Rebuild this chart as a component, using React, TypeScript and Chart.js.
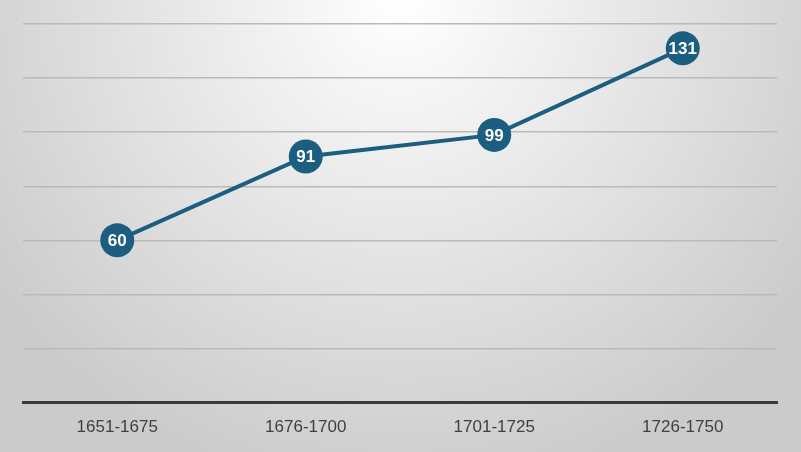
import { useEffect, useRef } from 'react';
import { Chart, registerables } from 'chart.js';

Chart.register(...registerables);

const periods = ['1651-1675', '1676-1700', '1701-1725', '1726-1750'];
const counts = [60, 91, 99, 131];

const lineColor = '#1b5e80';

// Radial grey background, light near the top centre
const backgroundPlugin = {
  id: 'radialBackground',
  beforeDraw: (chart: any) => {
    const { ctx, width, height } = chart;
    const g = ctx.createRadialGradient(width / 2, 0, 0, width / 2, 0, width * 0.62);
    g.addColorStop(0, '#ffffff');
    g.addColorStop(1, '#cbcbcb');
    ctx.save();
    ctx.fillStyle = g;
    ctx.fillRect(0, 0, width, height);
    ctx.restore();
  }
};

// White value labels inside the markers
const valueLabelPlugin = {
  id: 'valueLabels',
  afterDatasetsDraw: (chart: any) => {
    const { ctx } = chart;
    const meta = chart.getDatasetMeta(0);
    ctx.save();
    ctx.fillStyle = '#ffffff';
    ctx.font = 'bold 17px "Liberation Sans", Arial, sans-serif';
    ctx.textAlign = 'center';
    ctx.textBaseline = 'middle';
    meta.data.forEach((pt: any, i: number) => {
      ctx.fillText(String(counts[i]), pt.x, pt.y + 1);
    });
    ctx.restore();
  }
};

export default function App() {
  const canvasRef = useRef<HTMLCanvasElement | null>(null);
  const chartRef = useRef<Chart | null>(null);

  useEffect(() => {
    document.body.style.margin = '0';
    if (!canvasRef.current) return;
    if (chartRef.current) chartRef.current.destroy();

    chartRef.current = new Chart(canvasRef.current, {
      type: 'line',
      data: {
        labels: periods,
        datasets: [{
          data: counts,
          borderColor: lineColor,
          borderWidth: 4,
          pointRadius: 17,
          pointBackgroundColor: lineColor,
          pointBorderColor: lineColor,
          pointBorderWidth: 0,
          tension: 0
        }]
      },
      options: {
        animation: false,
        responsive: false,
        layout: { padding: { left: 23, right: 24, top: 24, bottom: -1 } },
        plugins: {
          legend: { display: false },
          tooltip: { enabled: false }
        },
        scales: {
          y: {
            min: 0,
            max: 140,
            ticks: { stepSize: 20, display: false },
            border: { display: false },
            grid: { color: '#bababa', lineWidth: 1.5, drawTicks: false }
          },
          x: {
            offset: true,
            ticks: {
              color: '#404040',
              padding: 15,
              font: { family: '"Liberation Sans", Arial, sans-serif', size: 17 }
            },
            border: { display: true, color: '#3a3a3a', width: 3 },
            grid: { display: false, drawTicks: false, offset: true }
          }
        }
      },
      plugins: [backgroundPlugin, valueLabelPlugin]
    });

    return () => {
      if (chartRef.current) {
        chartRef.current.destroy();
        chartRef.current = null;
      }
    };
  }, []);

  return (
    <div style={{ width: 801, height: 452 }}>
      <canvas ref={canvasRef} width={801} height={452} />
    </div>
  );
}
